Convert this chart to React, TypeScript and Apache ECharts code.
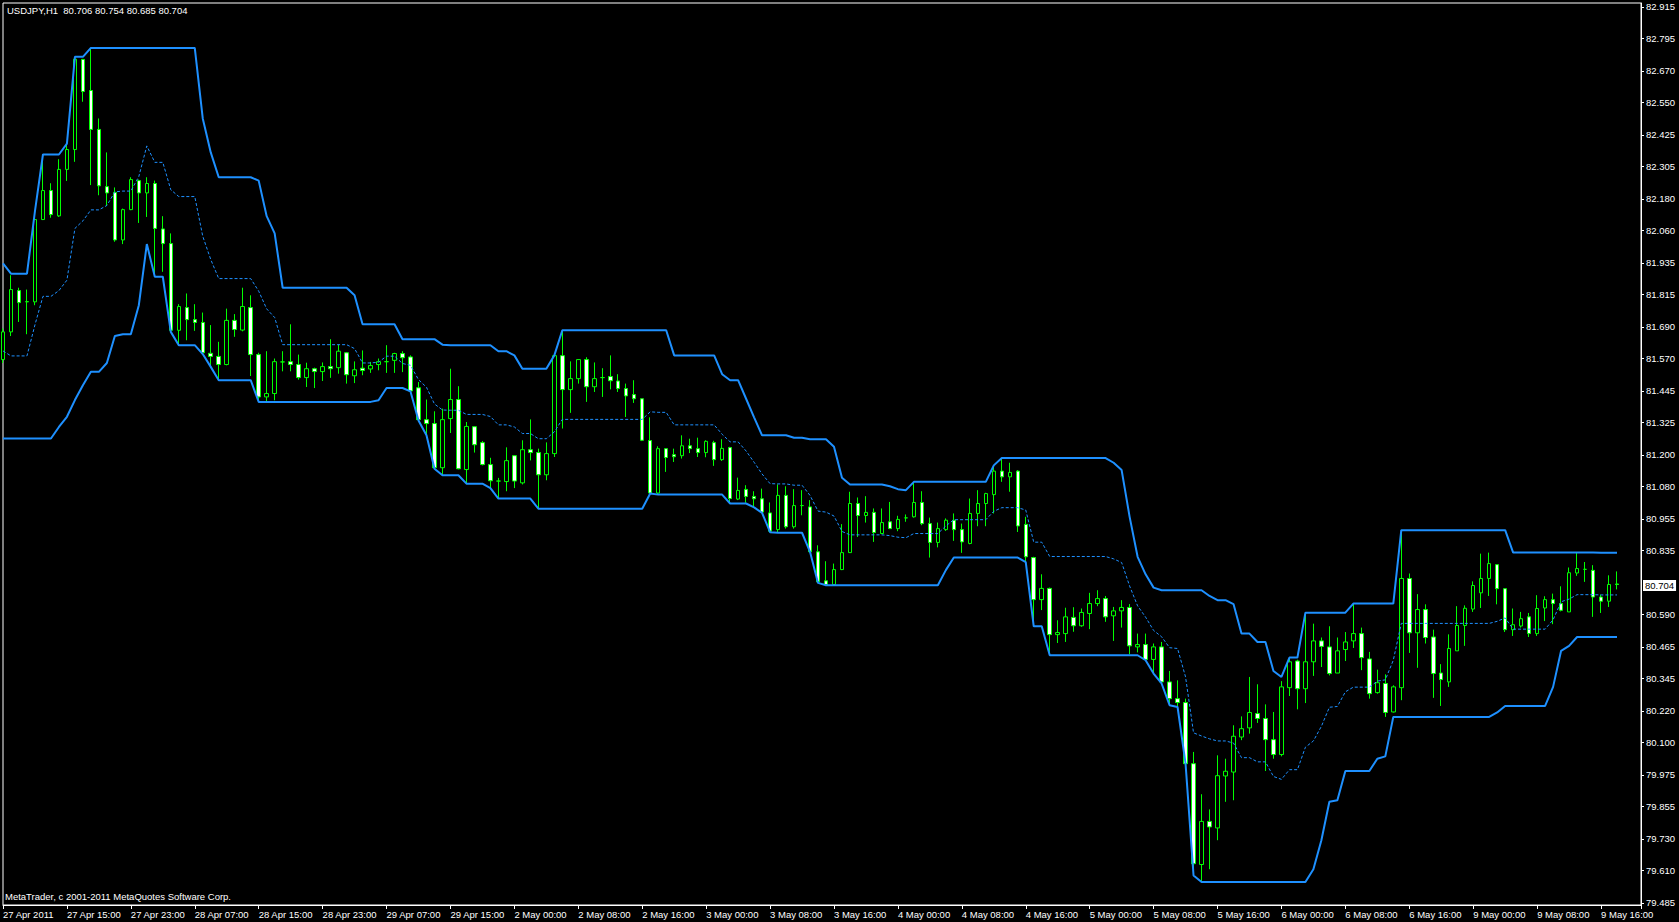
import React, { useEffect, useRef } from "react";
import * as echarts from "echarts";

const FONT = '"Liberation Sans", Arial, sans-serif';

const symbolName = "USDJPY,H1";
const copyrightText = "MetaTrader, c 2001-2011 MetaQuotes Software Corp.";

// hourly candles, bar 0 = 27 Apr 2011 07:00
const opens = [
  81.565, 81.671, 81.829, 81.786, 81.786, 82.101, 82.212, 82.115, 82.293, 82.369,
  82.714, 82.595, 82.446, 82.227, 82.205, 82.023, 82.139, 82.250, 82.203, 82.239,
  82.065, 82.009, 81.677, 81.764, 81.718, 81.707, 81.589, 81.577, 81.546, 81.715,
  81.678, 81.764, 81.584, 81.422, 81.435, 81.556, 81.557, 81.546, 81.496, 81.530,
  81.519, 81.538, 81.534, 81.591, 81.503, 81.532, 81.529, 81.546, 81.557, 81.562,
  81.588, 81.575, 81.457, 81.335, 81.320, 81.151, 81.339, 81.412, 81.144, 81.308,
  81.247, 81.163, 81.100, 81.098, 81.197, 81.093, 81.220, 81.209, 81.124, 81.205,
  81.580, 81.450, 81.492, 81.565, 81.461, 81.496, 81.500, 81.483, 81.454, 81.431,
  81.415, 81.255, 81.054, 81.224, 81.201, 81.197, 81.235, 81.224, 81.209, 81.247,
  81.182, 81.228, 81.031, 81.068, 81.041, 81.032, 80.978, 80.914, 81.045, 80.925,
  81.006, 81.001, 80.829, 80.718, 80.704, 80.761, 80.826, 81.014, 80.968, 80.980,
  80.899, 80.944, 80.918, 80.959, 80.963, 81.018, 80.937, 80.865, 80.914, 80.950,
  80.914, 80.861, 80.976, 81.014, 81.048, 81.138, 81.116, 81.138, 80.934, 80.807,
  80.646, 80.689, 80.512, 80.516, 80.578, 80.546, 80.593, 80.631, 80.650, 80.584,
  80.603, 80.616, 80.465, 80.474, 80.417, 80.465, 80.331, 80.267, 80.252, 80.018,
  79.632, 79.797, 79.772, 79.971, 79.986, 80.120, 80.155, 80.210, 80.191, 80.110,
  80.053, 80.309, 80.411, 80.305, 80.408, 80.488, 80.465, 80.365, 80.455, 80.488,
  80.516, 80.419, 80.290, 80.325, 80.216, 80.309, 80.727, 80.519, 80.608, 80.503,
  80.365, 80.331, 80.450, 80.547, 80.610, 80.672, 80.727, 80.780, 80.688, 80.531,
  80.545, 80.580, 80.516, 80.614, 80.646, 80.631, 80.599, 80.748, 80.762, 80.758,
  80.656, 80.640, 80.706,
];
const closes = [
  81.671, 81.833, 81.783, 81.787, 82.101, 82.212, 82.120, 82.293, 82.369, 82.715,
  82.591, 82.446, 82.230, 82.203, 82.023, 82.139, 82.254, 82.203, 82.239, 82.067,
  82.009, 81.677, 81.768, 81.718, 81.707, 81.591, 81.577, 81.546, 81.715, 81.680,
  81.768, 81.584, 81.422, 81.435, 81.557, 81.556, 81.546, 81.496, 81.530, 81.519,
  81.538, 81.530, 81.597, 81.507, 81.526, 81.523, 81.542, 81.557, 81.557, 81.588,
  81.572, 81.445, 81.335, 81.320, 81.151, 81.335, 81.412, 81.147, 81.309, 81.239,
  81.163, 81.101, 81.100, 81.178, 81.100, 81.220, 81.209, 81.124, 81.205, 81.580,
  81.450, 81.492, 81.565, 81.461, 81.492, 81.496, 81.484, 81.454, 81.426, 81.415,
  81.256, 81.054, 81.224, 81.190, 81.193, 81.235, 81.224, 81.209, 81.252, 81.182,
  81.225, 81.033, 81.064, 81.041, 81.032, 80.981, 80.908, 81.045, 80.925, 81.006,
  81.006, 80.829, 80.714, 80.704, 80.761, 80.826, 81.014, 80.968, 80.980, 80.903,
  80.941, 80.918, 80.953, 80.959, 81.018, 80.937, 80.865, 80.918, 80.950, 80.914,
  80.867, 80.976, 81.014, 81.052, 81.138, 81.116, 81.133, 80.928, 80.810, 80.646,
  80.689, 80.512, 80.520, 80.580, 80.546, 80.597, 80.631, 80.650, 80.580, 80.603,
  80.616, 80.469, 80.474, 80.417, 80.465, 80.331, 80.267, 80.252, 80.018, 79.635,
  79.797, 79.776, 79.972, 79.989, 80.123, 80.152, 80.214, 80.191, 80.110, 80.053,
  80.312, 80.408, 80.305, 80.408, 80.488, 80.467, 80.363, 80.450, 80.484, 80.516,
  80.424, 80.286, 80.328, 80.214, 80.312, 80.727, 80.519, 80.608, 80.501, 80.363,
  80.340, 80.459, 80.547, 80.613, 80.700, 80.727, 80.784, 80.688, 80.531, 80.550,
  80.573, 80.516, 80.612, 80.646, 80.631, 80.605, 80.749, 80.765, 80.762, 80.656,
  80.640, 80.704, 80.704,
];
const lows = [
  81.552, 81.655, 81.709, 81.662, 81.773, 82.099, 82.108, 82.111, 82.249, 82.322,
  82.552, 82.233, 82.194, 82.153, 82.016, 82.007, 82.137, 82.088, 82.111, 81.882,
  81.901, 81.671, 81.620, 81.639, 81.675, 81.586, 81.537, 81.486, 81.543, 81.652,
  81.673, 81.502, 81.403, 81.403, 81.409, 81.520, 81.520, 81.488, 81.460, 81.456,
  81.483, 81.495, 81.511, 81.473, 81.475, 81.505, 81.514, 81.524, 81.514, 81.514,
  81.517, 81.443, 81.332, 81.275, 81.147, 81.122, 81.284, 81.145, 81.090, 81.209,
  81.160, 81.073, 81.033, 81.061, 81.073, 81.087, 81.179, 80.994, 81.103, 81.192,
  81.301, 81.361, 81.473, 81.403, 81.441, 81.422, 81.451, 81.441, 81.345, 81.399,
  81.253, 81.052, 81.048, 81.135, 81.173, 81.186, 81.207, 81.192, 81.191, 81.158,
  81.177, 81.014, 81.027, 81.017, 80.999, 80.978, 80.904, 80.902, 80.918, 80.918,
  80.969, 80.829, 80.710, 80.701, 80.701, 80.759, 80.825, 80.886, 80.941, 80.867,
  80.899, 80.916, 80.908, 80.944, 80.960, 80.931, 80.807, 80.846, 80.909, 80.871,
  80.825, 80.858, 80.927, 80.927, 80.976, 81.097, 81.059, 80.905, 80.790, 80.544,
  80.606, 80.433, 80.480, 80.484, 80.523, 80.542, 80.533, 80.621, 80.561, 80.488,
  80.539, 80.437, 80.444, 80.414, 80.363, 80.325, 80.242, 80.235, 80.018, 79.590,
  79.565, 79.614, 79.725, 79.872, 79.878, 80.108, 80.133, 80.174, 79.990, 80.037,
  80.046, 80.277, 80.226, 80.250, 80.354, 80.388, 80.356, 80.365, 80.411, 80.461,
  80.376, 80.267, 80.286, 80.197, 80.214, 80.261, 80.442, 80.385, 80.478, 80.270,
  80.239, 80.312, 80.450, 80.469, 80.599, 80.614, 80.660, 80.628, 80.522, 80.507,
  80.539, 80.503, 80.507, 80.564, 80.552, 80.601, 80.599, 80.737, 80.714, 80.580,
  80.595, 80.618, 80.685,
];
const highs = [
  81.684, 81.888, 81.840, 81.833, 82.133, 82.350, 82.240, 82.332, 82.392, 82.724,
  82.716, 82.758, 82.488, 82.358, 82.224, 82.143, 82.263, 82.254, 82.263, 82.250,
  82.114, 82.048, 81.777, 81.818, 81.777, 81.745, 81.697, 81.633, 81.760, 81.739,
  81.840, 81.811, 81.591, 81.597, 81.569, 81.597, 81.700, 81.584, 81.553, 81.534,
  81.554, 81.643, 81.622, 81.594, 81.558, 81.600, 81.556, 81.569, 81.620, 81.591,
  81.597, 81.581, 81.479, 81.412, 81.367, 81.377, 81.530, 81.463, 81.326, 81.309,
  81.253, 81.189, 81.112, 81.229, 81.198, 81.256, 81.336, 81.224, 81.248, 81.581,
  81.677, 81.558, 81.565, 81.574, 81.554, 81.532, 81.581, 81.509, 81.473, 81.486,
  81.415, 81.344, 81.233, 81.224, 81.224, 81.275, 81.262, 81.266, 81.256, 81.254,
  81.260, 81.231, 81.113, 81.084, 81.061, 81.071, 81.018, 81.087, 81.080, 81.069,
  81.065, 81.027, 80.854, 80.793, 80.784, 80.935, 81.059, 81.037, 81.042, 80.995,
  80.995, 81.020, 80.967, 80.972, 81.097, 81.061, 80.960, 80.941, 80.957, 80.976,
  80.937, 81.033, 81.065, 81.055, 81.160, 81.188, 81.170, 81.142, 80.963, 80.810,
  80.743, 80.692, 80.567, 80.615, 80.617, 80.612, 80.672, 80.682, 80.660, 80.618,
  80.644, 80.629, 80.516, 80.516, 80.478, 80.484, 80.373, 80.337, 80.267, 80.063,
  79.901, 79.843, 80.050, 80.037, 80.165, 80.199, 80.350, 80.322, 80.245, 80.216,
  80.334, 80.424, 80.416, 80.596, 80.554, 80.501, 80.544, 80.501, 80.522, 80.631,
  80.539, 80.446, 80.378, 80.360, 80.318, 80.912, 80.746, 80.667, 80.628, 80.531,
  80.399, 80.513, 80.621, 80.624, 80.716, 80.822, 80.826, 80.780, 80.688, 80.612,
  80.599, 80.595, 80.663, 80.659, 80.669, 80.697, 80.769, 80.825, 80.790, 80.778,
  80.665, 80.739, 80.754,
];

// channel lines: [bar index, price] at every vertex
const upperBand = [
  [0, 81.933], [1, 81.894], [3, 81.894], [4, 82.133], [5, 82.35], [7, 82.35], [8, 82.392],
  [9, 82.724], [10, 82.724], [11, 82.758], [24, 82.758], [25, 82.488], [26, 82.358],
  [27, 82.263], [31, 82.263], [32, 82.25], [33, 82.114], [34, 82.048], [35, 81.84],
  [43, 81.84], [44, 81.811], [45, 81.7], [49, 81.7], [50, 81.643], [54, 81.643],
  [55, 81.622], [56, 81.62], [61, 81.62], [62, 81.597], [63, 81.597], [64, 81.581],
  [65, 81.53], [68, 81.53], [69, 81.581], [70, 81.677], [83, 81.677], [84, 81.581],
  [89, 81.581], [90, 81.509], [91, 81.486], [92, 81.486], [93, 81.415], [94, 81.344],
  [95, 81.275], [98, 81.275], [99, 81.266], [100, 81.266], [101, 81.26], [103, 81.26],
  [104, 81.231], [105, 81.113], [106, 81.087], [110, 81.087], [111, 81.08], [112, 81.069],
  [113, 81.065], [114, 81.097], [123, 81.097], [124, 81.16], [125, 81.188], [138, 81.188],
  [139, 81.17], [140, 81.142], [141, 80.963], [142, 80.81], [143, 80.743], [144, 80.692],
  [145, 80.682], [150, 80.682], [151, 80.66], [152, 80.644], [153, 80.644], [154, 80.629],
  [155, 80.516], [156, 80.516], [157, 80.484], [158, 80.484], [159, 80.373], [160, 80.35],
  [161, 80.424], [162, 80.424], [163, 80.596], [168, 80.596], [169, 80.631], [174, 80.631],
  [175, 80.912], [188, 80.912], [189, 80.826], [199, 80.826], [200, 80.825], [202, 80.825],
];
const lowerBand = [
  [0, 81.263], [6, 81.263], [7, 81.307], [8, 81.346], [9, 81.41], [10, 81.467], [11, 81.518],
  [12, 81.518], [13, 81.552], [14, 81.655], [15, 81.662], [16, 81.662], [17, 81.773],
  [18, 82.007], [19, 81.882], [20, 81.882], [21, 81.671], [22, 81.62], [24, 81.62],
  [25, 81.586], [26, 81.537], [27, 81.486], [31, 81.486], [32, 81.403], [46, 81.403],
  [47, 81.409], [48, 81.456], [50, 81.456], [51, 81.443], [52, 81.332], [53, 81.275],
  [54, 81.147], [55, 81.122], [57, 81.122], [58, 81.09], [60, 81.09], [61, 81.073],
  [62, 81.033], [66, 81.033], [67, 80.994], [80, 80.994], [81, 81.052], [82, 81.048],
  [90, 81.048], [91, 81.014], [93, 81.014], [94, 80.999], [95, 80.978], [96, 80.904],
  [97, 80.902], [100, 80.902], [101, 80.829], [102, 80.71], [103, 80.701], [117, 80.701],
  [118, 80.759], [119, 80.807], [127, 80.807], [128, 80.79], [129, 80.544], [130, 80.544],
  [131, 80.433], [142, 80.433], [143, 80.414], [144, 80.363], [145, 80.325], [146, 80.242],
  [147, 80.235], [148, 80.018], [149, 79.59], [150, 79.565], [163, 79.565], [164, 79.614],
  [165, 79.725], [166, 79.872], [167, 79.878], [168, 79.99], [171, 79.99], [172, 80.037],
  [173, 80.046], [174, 80.197], [186, 80.197], [187, 80.214], [188, 80.239], [193, 80.239],
  [194, 80.312], [195, 80.45], [196, 80.469], [197, 80.503], [202, 80.503],
];
const middleBand = [
  [0, 81.598], [1, 81.579], [3, 81.579], [4, 81.698], [5, 81.807], [6, 81.807], [7, 81.829],
  [8, 81.869], [9, 82.067], [10, 82.096], [11, 82.138], [12, 82.138], [13, 82.155],
  [14, 82.207], [15, 82.21], [16, 82.21], [17, 82.266], [18, 82.383], [19, 82.32],
  [20, 82.32], [21, 82.215], [22, 82.189], [24, 82.189], [25, 82.037], [26, 81.948],
  [27, 81.875], [31, 81.875], [32, 81.827], [33, 81.759], [34, 81.726], [35, 81.622],
  [43, 81.622], [44, 81.607], [45, 81.552], [46, 81.552], [47, 81.555], [48, 81.578],
  [49, 81.578], [50, 81.55], [51, 81.543], [52, 81.488], [53, 81.459], [54, 81.395],
  [55, 81.372], [56, 81.371], [57, 81.371], [58, 81.355], [60, 81.355], [61, 81.347],
  [62, 81.315], [63, 81.315], [64, 81.307], [65, 81.282], [66, 81.282], [67, 81.262],
  [68, 81.262], [69, 81.288], [70, 81.336], [80, 81.336], [81, 81.365], [82, 81.363],
  [83, 81.363], [84, 81.315], [89, 81.315], [90, 81.279], [91, 81.25], [92, 81.25],
  [93, 81.215], [94, 81.172], [95, 81.127], [96, 81.09], [97, 81.089], [98, 81.089],
  [99, 81.084], [100, 81.084], [101, 81.045], [102, 80.985], [103, 80.981], [104, 80.966],
  [105, 80.907], [106, 80.894], [110, 80.894], [111, 80.891], [112, 80.885], [113, 80.883],
  [114, 80.899], [117, 80.899], [118, 80.928], [119, 80.952], [123, 80.952], [124, 80.984],
  [125, 80.998], [127, 80.998], [128, 80.989], [129, 80.866], [130, 80.866], [131, 80.811],
  [138, 80.811], [139, 80.802], [140, 80.788], [141, 80.698], [142, 80.622], [143, 80.579],
  [144, 80.528], [145, 80.504], [146, 80.462], [147, 80.459], [148, 80.35], [149, 80.136],
  [150, 80.124], [151, 80.113], [152, 80.105], [153, 80.105], [154, 80.097], [155, 80.041],
  [156, 80.041], [157, 80.025], [158, 80.025], [159, 79.969], [160, 79.958], [161, 79.995],
  [162, 79.995], [163, 80.081], [164, 80.105], [165, 80.161], [166, 80.234], [167, 80.237],
  [168, 80.293], [169, 80.311], [171, 80.311], [172, 80.334], [173, 80.339], [174, 80.414],
  [175, 80.555], [186, 80.555], [187, 80.563], [188, 80.576], [189, 80.533], [193, 80.533],
  [194, 80.569], [195, 80.638], [196, 80.648], [197, 80.665], [199, 80.665], [200, 80.664],
  [202, 80.664],
];

// time axis labels, one every 8 bars starting at bar 0
const timeTickLabels = [
  "27 Apr 2011", "27 Apr 15:00", "27 Apr 23:00", "28 Apr 07:00", "28 Apr 15:00",
  "28 Apr 23:00", "29 Apr 07:00", "29 Apr 15:00", "2 May 00:00", "2 May 08:00",
  "2 May 16:00", "3 May 00:00", "3 May 08:00", "3 May 16:00", "4 May 00:00",
  "4 May 08:00", "4 May 16:00", "5 May 00:00", "5 May 08:00", "5 May 16:00",
  "6 May 00:00", "6 May 08:00", "6 May 16:00", "9 May 00:00", "9 May 08:00",
  "9 May 16:00",
];
const TIME_LABEL_STEP = 8;

const priceTickLabels = [
  "82.915", "82.795", "82.670", "82.550", "82.425", "82.305", "82.180", "82.060",
  "81.935", "81.815", "81.690", "81.570", "81.445", "81.325", "81.200", "81.080",
  "80.955", "80.835", "80.590", "80.465", "80.345", "80.220", "80.100", "79.975",
  "79.855", "79.730", "79.610", "79.485",
];

const PRICE_MIN = 79.477;
const PRICE_MAX = 82.93;
const AXIS_SLOTS = 206;

export default function App() {
  const ref = useRef<HTMLDivElement>(null);

  useEffect(() => {
    if (!ref.current) return;
    const chart = echarts.init(ref.current, undefined, { renderer: "svg" });
    const last = opens.length - 1;
    const lastClose = closes[last];
    const categories = Array.from({ length: AXIS_SLOTS }, (_, i) => String(i));
    const candles = opens.map((o, i) => [o, closes[i], lows[i], highs[i]]);
    const priceTicks = priceTickLabels.map((s) => parseFloat(s));
    const blue = "#1e90ff";
    const green = "#00ff00";

    chart.setOption({
      animation: false,
      backgroundColor: "#000",
      textStyle: { fontFamily: FONT },
      title: {
        text: `${symbolName}  ${opens[last].toFixed(3)} ${highs[last].toFixed(3)} ${lows[last].toFixed(3)} ${closes[last].toFixed(3)}`,
        left: 7,
        top: 5,
        padding: 0,
        textStyle: { color: "#fff", fontSize: 9.5, fontWeight: "normal", fontFamily: FONT },
      },
      grid: {
        left: 3,
        top: 3,
        right: 38,
        bottom: 17,
        show: true,
        borderColor: "#fff",
        borderWidth: 1,
        backgroundColor: "#000",
        containLabel: false,
        outerBoundsMode: "none",
      },
      xAxis: {
        type: "category",
        data: categories,
        boundaryGap: false,
        axisLine: { show: true, lineStyle: { color: "#fff", width: 1 } },
        axisTick: { show: true, interval: TIME_LABEL_STEP - 1, length: 4, lineStyle: { color: "#fff" } },
        axisLabel: {
          interval: TIME_LABEL_STEP - 1,
          formatter: (_v: string, i: number) =>
            i % TIME_LABEL_STEP === 0 ? timeTickLabels[i / TIME_LABEL_STEP] ?? "" : "",
          color: "#fff",
          fontSize: 9.5,
          lineHeight: 10,
          fontFamily: FONT,
          align: "left",
          margin: 4,
          hideOverlap: false,
          showMinLabel: true,
          showMaxLabel: true,
        },
        splitLine: { show: false },
      },
      yAxis: {
        type: "value",
        position: "right",
        min: PRICE_MIN,
        max: PRICE_MAX,
        scale: true,
        axisLine: { show: true, lineStyle: { color: "#fff", width: 1 } },
        axisTick: { show: true, length: 3, customValues: priceTicks, lineStyle: { color: "#fff" } },
        axisLabel: {
          customValues: priceTicks,
          formatter: (v: number) => v.toFixed(3),
          color: "#fff",
          fontSize: 9.5,
          lineHeight: 10,
          fontFamily: FONT,
          margin: 5,
          hideOverlap: false,
          showMinLabel: true,
          showMaxLabel: true,
        },
        splitLine: { show: false },
      },
      series: [
        {
          type: "candlestick",
          data: candles,
          barWidth: 4,
          z: 2,
          itemStyle: {
            color: "#000",
            color0: "#fff",
            borderColor: green,
            borderColor0: green,
            borderColorDoji: green,
            borderWidth: 1,
          },
        },
        {
          type: "line",
          data: upperBand,
          symbol: "none",
          z: 3,
          lineStyle: { color: blue, width: 2 },
        },
        {
          type: "line",
          data: lowerBand,
          symbol: "none",
          z: 3,
          lineStyle: { color: blue, width: 2 },
        },
        {
          type: "line",
          data: middleBand,
          symbol: "none",
          z: 3,
          clip: false,
          lineStyle: { color: blue, width: 1, type: [3, 2] },
          markLine: {
            silent: true,
            symbol: "none",
            z: 10,
            data: [{ yAxis: lastClose }],
            lineStyle: { color: "rgba(0,0,0,0)", width: 0 },
            label: {
              show: true,
              position: "end",
              formatter: lastClose.toFixed(3),
              color: "#000",
              backgroundColor: "#fff",
              padding: [1, 2, 0, 2],
              fontSize: 9.5,
              lineHeight: 10,
              fontFamily: FONT,
              distance: 2,
            },
          },
        },
      ],
      graphic: [
        {
          type: "text",
          left: 5,
          top: 891,
          style: { text: copyrightText, fill: "#fff", font: `9.5px ${FONT}` },
        },
      ],
    });

    return () => chart.dispose();
  }, []);

  return (
    <div
      ref={ref}
      style={{ position: "fixed", left: 0, top: 0, width: 1679, height: 922, background: "#000" }}
    />
  );
}
